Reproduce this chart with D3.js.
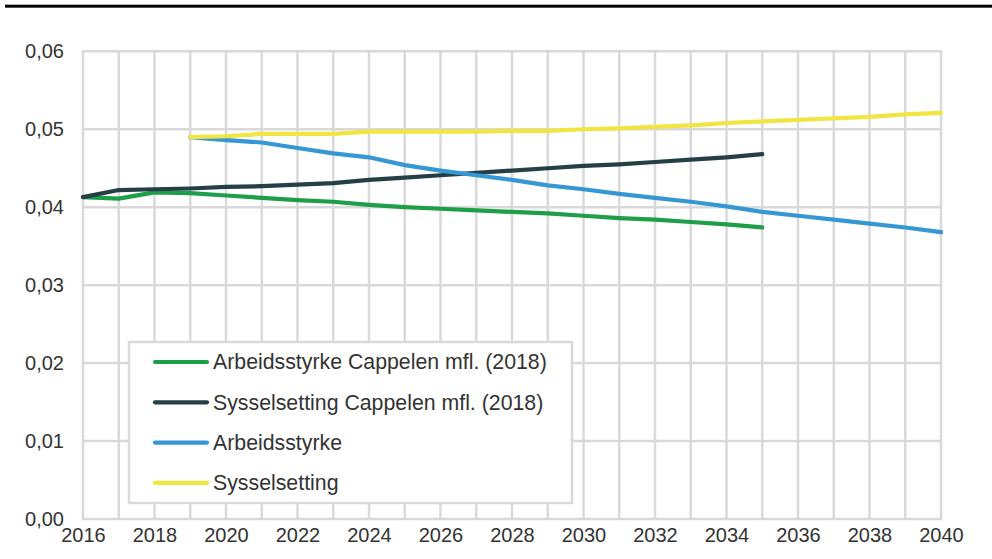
<!DOCTYPE html>
<html>
<head>
<meta charset="utf-8">
<script src="https://cdn.jsdelivr.net/npm/d3@7"></script>
<style>
  body { margin: 0; background: #fff; }
  svg { display: block; font-family: "Liberation Sans", Arial, sans-serif; }
</style>
</head>
<body>
<svg id="chart" width="992" height="559"></svg>
<script>
// data
const years = d3.range(2016, 2041);
const yTicks = [0, 0.01, 0.02, 0.03, 0.04, 0.05, 0.06];
const xTicks = d3.range(2016, 2041, 2);

const arbCappelenYears = d3.range(2016, 2036);
const arbCappelen = [0.0413, 0.0411, 0.0419, 0.0418, 0.0415, 0.0412, 0.0409, 0.0407, 0.0403, 0.0400,
  0.0398, 0.0396, 0.0394, 0.0392, 0.0389, 0.0386, 0.0384, 0.0381, 0.0378, 0.0374];

const sysCappelenYears = d3.range(2016, 2036);
const sysCappelen = [0.0413, 0.0422, 0.0423, 0.0424, 0.0426, 0.0427, 0.0429, 0.0431, 0.0435, 0.0438,
  0.0441, 0.0444, 0.0447, 0.0450, 0.0453, 0.0455, 0.0458, 0.0461, 0.0464, 0.0468];

const arbYears = d3.range(2019, 2041);
const arb = [0.0490, 0.0486, 0.0483, 0.0476, 0.0469, 0.0464, 0.0454, 0.0447, 0.0441, 0.0435, 0.0428,
  0.0423, 0.0417, 0.0412, 0.0407, 0.0401, 0.0394, 0.0389, 0.0384, 0.0379, 0.0374, 0.0368];

const sysYears = d3.range(2019, 2041);
const sys = [0.0490, 0.0491, 0.0494, 0.0494, 0.0494, 0.0497, 0.0497, 0.0497, 0.0497, 0.0498, 0.0498,
  0.0500, 0.0501, 0.0503, 0.0505, 0.0508, 0.0510, 0.0512, 0.0514, 0.0516, 0.0519, 0.0521];

const series = [
  { name: "Arbeidsstyrke Cappelen mfl. (2018)", years: arbCappelenYears, values: arbCappelen, color: "#1e9e48" },
  { name: "Sysselsetting Cappelen mfl. (2018)", years: sysCappelenYears, values: sysCappelen, color: "#243f45" },
  { name: "Arbeidsstyrke", years: arbYears, values: arb, color: "#3597d4" },
  { name: "Sysselsetting", years: sysYears, values: sys, color: "#f1e541" }
];

const svg = d3.select("#chart");
const textColor = "#333";
const gridColor = "#d9d9d9";

// top rule
svg.append("rect")
  .attr("x", 5).attr("y", 4.7)
  .attr("width", 987).attr("height", 3)
  .attr("fill", "#000");

const x = d3.scaleLinear().domain([2016, 2040]).range([83, 941]);
const y = d3.scaleLinear().domain([0, 0.06]).range([519, 51.3]);

// grid
svg.append("g")
  .selectAll("line")
  .data(years)
  .join("line")
  .attr("x1", d => x(d)).attr("x2", d => x(d))
  .attr("y1", y(0.06)).attr("y2", y(0))
  .attr("stroke", gridColor).attr("stroke-width", 2.5);

svg.append("g")
  .selectAll("line")
  .data(yTicks)
  .join("line")
  .attr("x1", x(2016) - 1.25).attr("x2", x(2040) + 1.25)
  .attr("y1", d => y(d)).attr("y2", d => y(d))
  .attr("stroke", gridColor).attr("stroke-width", 2.5);

// axes labels
const fmt = d3.format(".2f");
svg.append("g")
  .attr("transform", `translate(${x(2016)},0)`)
  .call(d3.axisLeft(y).tickValues(yTicks).tickSize(0).tickPadding(19)
    .tickFormat(d => fmt(d).replace(".", ",")))
  .call(g => g.select(".domain").remove())
  .call(g => g.selectAll("text")
    .attr("fill", textColor)
    .style("font-size", "20px")
    .style("font-family", "Liberation Sans, Arial, sans-serif"));

svg.append("g")
  .attr("transform", `translate(0,${y(0)})`)
  .call(d3.axisBottom(x).tickValues(xTicks).tickSize(0).tickPadding(9).tickFormat(d3.format("d")))
  .call(g => g.select(".domain").remove())
  .call(g => g.selectAll("text")
    .attr("fill", textColor)
    .style("font-size", "20px")
    .style("font-family", "Liberation Sans, Arial, sans-serif"));

// lines
const line = d3.line()
  .x(d => x(d[0]))
  .y(d => y(d[1]));

svg.append("g")
  .selectAll("path")
  .data(series)
  .join("path")
  .attr("d", s => line(s.years.map((yr, i) => [yr, s.values[i]])))
  .attr("fill", "none")
  .attr("stroke", s => s.color)
  .attr("stroke-width", 4.2)
  .attr("stroke-linejoin", "round")
  .attr("stroke-linecap", "round");

// legend
const legend = svg.append("g");
legend.append("rect")
  .attr("x", 129).attr("y", 342)
  .attr("width", 443).attr("height", 161)
  .attr("fill", "#fff")
  .attr("stroke", gridColor).attr("stroke-width", 2.5);

const items = legend.selectAll("g.item")
  .data(series)
  .join("g")
  .attr("class", "item")
  .attr("transform", (d, i) => `translate(0,${362 + i * 40.3})`);

items.append("line")
  .attr("x1", 155).attr("x2", 207)
  .attr("stroke", d => d.color)
  .attr("stroke-width", 4.2)
  .attr("stroke-linecap", "round");

items.append("text")
  .attr("x", 213).attr("y", 0)
  .attr("dy", "0.35em")
  .attr("fill", textColor)
  .style("font-size", "21.3px")
  .text(d => d.name);
</script>
</body>
</html>
